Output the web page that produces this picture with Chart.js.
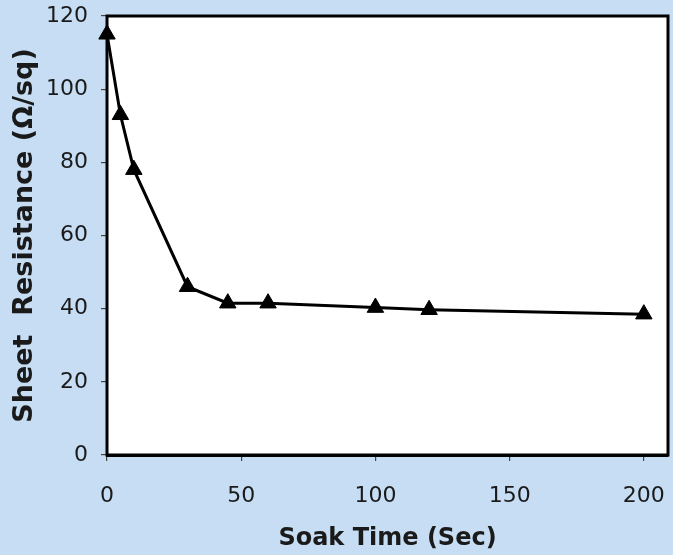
<!DOCTYPE html>
<html>
<head>
<meta charset="utf-8">
<script src="https://cdn.jsdelivr.net/npm/chart.js@4.4.0/dist/chart.umd.min.js"></script>
<style>
  html, body { margin: 0; padding: 0; background: #c6ddf4; }
  #wrap { width: 673px; height: 555px; position: relative; }
</style>
</head>
<body>
<div id="wrap"><canvas id="c" width="673" height="555"></canvas></div>
<script>
// Soak time (s) vs. sheet resistance (ohm/sq)
const soakTime = [0, 5, 10, 30, 45, 60, 100, 120, 200];
const sheetResistance = [115, 93, 78, 46, 41.5, 41.5, 40.3, 39.7, 38.5];
const xTicks = [0, 50, 100, 150, 200];
const yTicks = [0, 20, 40, 60, 80, 100, 120];

const points = soakTime.map((t, i) => ({ x: t, y: sheetResistance[i] }));

// White plot area with a heavy black frame
const frame = {
  id: 'frame',
  beforeDatasetsDraw(chart) {
    const { ctx, chartArea: a } = chart;
    ctx.save();
    ctx.fillStyle = '#ffffff';
    ctx.fillRect(a.left, a.top, a.right - a.left, a.bottom - a.top);
    ctx.strokeStyle = '#000';
    ctx.lineWidth = 3;
    ctx.strokeRect(a.left, a.top, a.right - a.left, a.bottom - a.top);
    ctx.restore();
  }
};

const font = 'DejaVu Sans, Verdana, sans-serif';

new Chart(document.getElementById('c'), {
  type: 'scatter',
  data: {
    datasets: [{
      data: points,
      showLine: true,
      borderColor: '#000',
      backgroundColor: '#000',
      borderWidth: 3,
      pointStyle: 'triangle',
      pointRadius: 9.5,
      pointHoverRadius: 9.5,
      pointBorderWidth: 1,
      clip: false
    }]
  },
  options: {
    responsive: false,
    animation: false,
    layout: { autoPadding: false, padding: { top: 16, right: 5, left: 0, bottom: 0 } },
    plugins: { legend: { display: false }, tooltip: { enabled: false } },
    scales: {
      x: {
        type: 'linear',
        min: 0,
        max: 209,
        afterBuildTicks(s) { s.ticks = xTicks.map(v => ({ value: v })); },
        afterFit(s) { s.height = 100; s.paddingLeft = 0; s.paddingRight = 0; },
        grid: { display: true, drawOnChartArea: false, drawTicks: true, tickLength: 6, color: '#444', lineWidth: 1.2 },
        border: { display: true, color: '#000', width: 3 },
        ticks: { color: '#1a1a1a', font: { family: font, size: 22 }, padding: 22, maxRotation: 0 },
        title: { display: true, text: 'Soak Time (Sec)', color: '#1a1a1a', font: { family: font, size: 24, weight: 'bold' }, padding: { top: 4, bottom: 2 } }
      },
      y: {
        type: 'linear',
        min: 0,
        max: 120,
        afterBuildTicks(s) { s.ticks = yTicks.map(v => ({ value: v })); },
        afterFit(s) { s.width = 107; s.paddingTop = 0; s.paddingBottom = 0; },
        grid: { display: true, drawOnChartArea: false, drawTicks: true, tickLength: 6, color: '#444', lineWidth: 1.2 },
        border: { display: true, color: '#000', width: 3 },
        ticks: { color: '#1a1a1a', font: { family: font, size: 22 }, padding: 13 },
        title: { display: true, text: 'Sheet  Resistance (\u03A9/sq)', color: '#1a1a1a', font: { family: font, size: 27, weight: 'bold' }, padding: { top: 9, bottom: 2 } }
      }
    }
  },
  plugins: [frame]
});
</script>
</body>
</html>
